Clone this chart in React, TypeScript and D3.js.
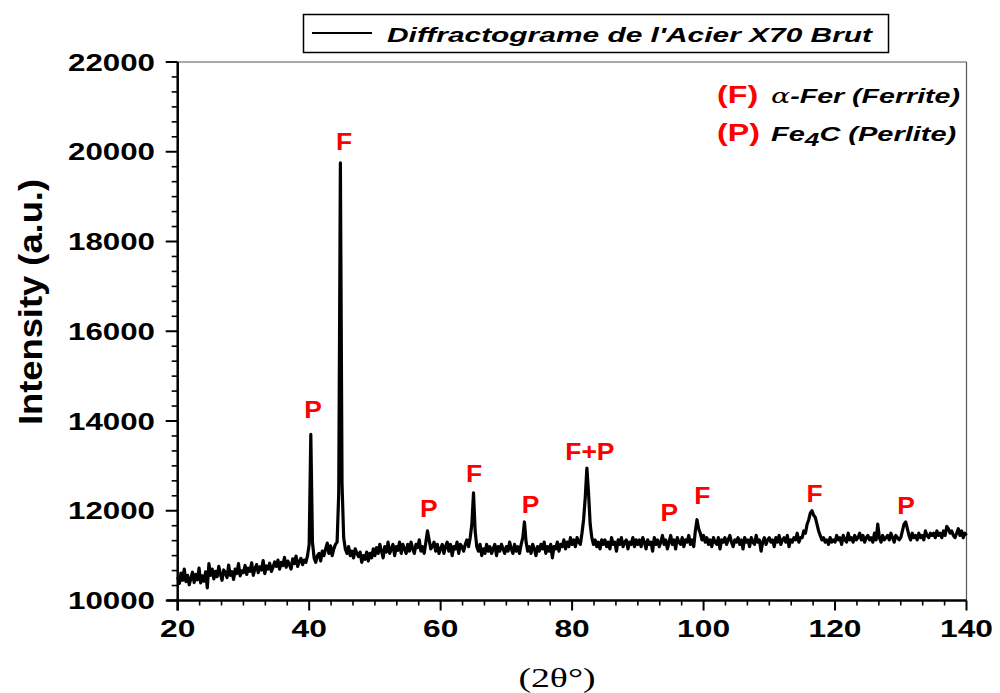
import React from "react";
import * as d3 from "d3";

// ---- data: XRD scan of X70 steel, 2θ from 20° to 140°, step 0.25° ----
const scanStart = 20;
const scanStep = 0.25;
const block20 = [10520,10380,10610,10450,10700,10420,10560,10350,10490,10630,10400,10580,10460,10720,10390,10550,10430,10640,10280,10820];
const block25 = [10560,10700,10480,10650,10530,10760,10590,10450,10680,10620,10510,10790,10560,10640,10470,10700,10600,10820,10550,10660];
const block30 = [10620,10780,10580,10720,10650,10840,10560,10710,10800,10620,10750,10680,10890,10600,10770,10700,10830,10650,10740,10860];
const block35 = [10760,10900,10700,10850,10780,10960,10740,10880,10800,10700,10930,10820,10990,10760,10870,10940,10800,10900,10850,11000];
const block40 = [11250,13700,11300,10950,10850,11000,11050,10880,11100,11000,11150,11280,11050,11220,11000,11150,11250,11300,12400,19750];
const block45 = [12600,11400,11150,11050,11200,11000,11100,10950,11150,11050,10980,11080,10850,11000,10920,11080,10880,11050,10950,11150];
const block50 = [11000,11180,11050,11250,11100,10950,11200,11080,11300,11050,11150,11250,11000,11200,11120,11300,11050,11250,11150,11050];
const block55 = [11250,11100,11300,11150,11050,11250,11180,11350,11100,11200,11050,11300,11550,11350,11150,11200,11300,11100,11250,11050];
const block60 = [11150,11250,11050,11200,11300,11100,11250,11000,11200,11150,11300,11050,11250,11200,11100,11250,11350,11200,11400,11700];
const block65 = [12400,11550,11200,11100,11250,11000,11150,11050,11250,11100,11200,11050,11150,11250,11000,11200,11100,11250,11150,11050];
const block70 = [11200,11100,11300,11150,11050,11250,11100,11200,11050,11250,11400,11750,11300,11100,11200,11050,11250,11150,11000,11200];
const block75 = [11100,11250,11150,11300,11050,11200,11100,11250,10950,11200,11150,11300,11100,11250,11200,11350,11150,11300,11200,11400];
const block80 = [11250,11350,11200,11400,11300,11250,11500,11800,12300,12950,12400,11700,11400,11250,11350,11200,11300,11150,11350,11250];
const block85 = [11350,11200,11300,11150,11400,11250,11300,11100,11350,11250,11400,11200,11300,11350,11150,11300,11250,11400,11200,11350];
const block90 = [11250,11350,11200,11400,11300,11150,11350,11250,11300,11100,11400,11250,11350,11200,11300,11450,11250,11350,11150,11300];
const block95 = [11450,11250,11350,11150,11400,11300,11250,11400,11200,11350,11300,11450,11250,11350,11200,11550,11800,11600,11500,11350];
const block100 = [11450,11300,11400,11250,11350,11200,11400,11300,11250,11400,11150,11350,11300,11400,11250,11350,11450,11300,11200,11350];
const block105 = [11300,11400,11250,11350,11150,11400,11300,11350,11200,11400,11300,11250,11450,11300,11350,11100,11300,11400,11250,11350];
const block110 = [11400,11300,11350,11200,11400,11300,11450,11250,11350,11400,11300,11450,11200,11350,11300,11400,11350,11500,11300,11400];
const block115 = [11400,11550,11500,11700,11800,11950,12000,11900,11850,11700,11550,11450,11350,11400,11300,11350,11250,11400,11300,11350];
const block120 = [11300,11450,11350,11400,11250,11450,11350,11300,11500,11350,11400,11300,11450,11350,11400,11500,11350,11450,11300,11400];
const block125 = [11450,11350,11400,11300,11500,11350,11700,11400,11300,11450,11350,11400,11450,11350,11500,11400,11300,11450,11400,11350];
const block130 = [11400,11550,11700,11750,11600,11450,11350,11500,11400,11450,11350,11500,11400,11450,11350,11550,11450,11400,11500,11450];
const block135 = [11500,11400,11550,11450,11500,11400,11550,11450,11650,11600,11500,11550,11450,11400,11500,11600,11450,11550,11400,11500];
const block140 = [11450];

const intensity = [
  ...block20, ...block25, ...block30, ...block35, ...block40, ...block45,
  ...block50, ...block55, ...block60, ...block65, ...block70, ...block75,
  ...block80, ...block85, ...block90, ...block95, ...block100, ...block105,
  ...block110, ...block115, ...block120, ...block125, ...block130, ...block135,
  ...block140,
];

const xMajorTicks = [20, 40, 60, 80, 100, 120, 140];
const yMajorTicks = [10000, 12000, 14000, 16000, 18000, 20000, 22000];

// peak annotations: label, 2θ position, intensity level of label baseline
const peakLabels = ["F", "P", "P", "F", "P", "F+P", "P", "F", "F", "P"];
const peakTheta = [45.3, 40.6, 58.2, 65.1, 73.7, 82.7, 94.8, 99.8, 116.9, 130.8];
const peakLevel = [20040, 14060, 11850, 12650, 11960, 13120, 11770, 12140, 12200, 11920];

const legendTitle = "Diffractograme de l'Acier X70 Brut";

export default function App() {
  const W = 1000, H = 693;
  const x = d3.scaleLinear().domain([20, 140]).range([177.7, 966.5]);
  const y = d3.scaleLinear().domain([10000, 22000]).range([600.5, 62]);

  const points: [number, number][] = intensity.map((v, i) => [scanStart + i * scanStep, v]);
  const line = d3.line<[number, number]>().x(d => x(d[0])).y(d => y(d[1]));

  const xMinor: number[] = [];
  for (let i = 0; i < xMajorTicks.length - 1; i++) {
    for (let k = 1; k < 6; k++) xMinor.push(xMajorTicks[i] + (k * 20) / 6);
  }
  const yMinor: number[] = [];
  for (let i = 0; i < yMajorTicks.length - 1; i++) {
    for (let k = 1; k < 6; k++) yMinor.push(yMajorTicks[i] + (k * 2000) / 6);
  }

  const sans = "'Liberation Sans', Arial, sans-serif";
  const x0 = x(20), x1 = x(140), yb = y(10000), yt = y(22000);

  return (
    <svg width={W} height={H} style={{ position: "absolute", left: 0, top: 0, background: "#fff" }}>
      {/* frame (thin top & right) */}
      <line x1={x0} y1={yt} x2={x1} y2={yt} stroke="#555" strokeWidth={1} />
      <line x1={x1} y1={yt} x2={x1} y2={yb} stroke="#555" strokeWidth={1.2} />

      {/* data */}
      <path d={line(points) || ""} fill="none" stroke="#000" strokeWidth={3.2} strokeLinejoin="round" />

      {/* axes */}
      <line x1={x0} y1={yt} x2={x0} y2={yb + 10} stroke="#000" strokeWidth={2.5} />
      <line x1={x0 - 11} y1={yb} x2={x1} y2={yb} stroke="#000" strokeWidth={2.5} />

      {yMajorTicks.map(t => (
        <line key={"ym" + t} x1={x0 - 12} x2={x0} y1={y(t)} y2={y(t)} stroke="#000" strokeWidth={2} />
      ))}
      {yMinor.map((t, i) => (
        <line key={"yn" + i} x1={x0 - 6} x2={x0} y1={y(t)} y2={y(t)} stroke="#000" strokeWidth={1.6} />
      ))}
      {xMajorTicks.map(t => (
        <line key={"xm" + t} x1={x(t)} x2={x(t)} y1={yb} y2={yb + 10} stroke="#000" strokeWidth={2} />
      ))}
      {xMinor.map((t, i) => (
        <line key={"xn" + i} x1={x(t)} x2={x(t)} y1={yb} y2={yb + 5} stroke="#000" strokeWidth={1.6} />
      ))}

      {/* tick labels */}
      {yMajorTicks.map(t => (
        <text key={"yl" + t} transform={`translate(155,${y(t) + 8.5}) scale(1.36,1)`} textAnchor="end"
          fontFamily={sans} fontWeight="bold" fontSize={23} fill="#000">{t}</text>
      ))}
      {xMajorTicks.map(t => (
        <text key={"xl" + t} transform={`translate(${x(t)},637) scale(1.38,1)`} textAnchor="middle"
          fontFamily={sans} fontWeight="bold" fontSize={23} fill="#000">{t}</text>
      ))}

      {/* axis titles */}
      <text transform="translate(42,302) rotate(-90)" textAnchor="middle" fontFamily={sans}
        fontWeight="bold" fontSize={34} textLength={246} lengthAdjust="spacingAndGlyphs" fill="#000">Intensity (a.u.)</text>
      <text transform="translate(557,687) scale(1.4,1)" textAnchor="middle"
        fontFamily="'Liberation Serif', 'Times New Roman', serif" fontSize={27} fill="#000">(2θ°)</text>

      {/* legend box */}
      <rect x={303.5} y={14.5} width={585} height={38} fill="#fff" stroke="#000" strokeWidth={1.5} />
      <line x1={312} x2={372} y1={33} y2={33} stroke="#000" strokeWidth={2} />
      <text x={387} y={42} textLength={485} lengthAdjust="spacingAndGlyphs" fontFamily={sans}
        fontWeight="bold" fontStyle="italic" fontSize={21} fill="#000">{legendTitle}</text>

      {/* phase key */}
      <text transform="translate(717,103) scale(1.4,1)" fontFamily={sans} fontWeight="bold" fontSize={23} fill="#ff0000">(F)</text>
      <text transform="translate(771,103) scale(1.36,1)" fontFamily={sans} fontWeight="bold" fontStyle="italic" fontSize={21} fill="#000">
        <tspan fontFamily="'DejaVu Serif', serif" fontWeight="normal">α</tspan>-Fer (Ferrite)
      </text>
      <text transform="translate(717,141) scale(1.4,1)" fontFamily={sans} fontWeight="bold" fontSize={23} fill="#ff0000">(P)</text>
      <text transform="translate(771,141) scale(1.38,1)" fontFamily={sans} fontWeight="bold" fontStyle="italic" fontSize={21} fill="#000">
        Fe<tspan dy={5} fontSize={19}>4</tspan><tspan dy={-5}>C (Perlite)</tspan>
      </text>

      {/* peak labels */}
      {peakLabels.map((lab, i) => (
        <text key={"pk" + i} transform={`translate(${x(peakTheta[i])},${y(peakLevel[i])}) scale(1.15,1)`}
          textAnchor="middle" fontFamily={sans} fontWeight="bold" fontSize={23} fill="#ff0000">{lab}</text>
      ))}
    </svg>
  );
}
